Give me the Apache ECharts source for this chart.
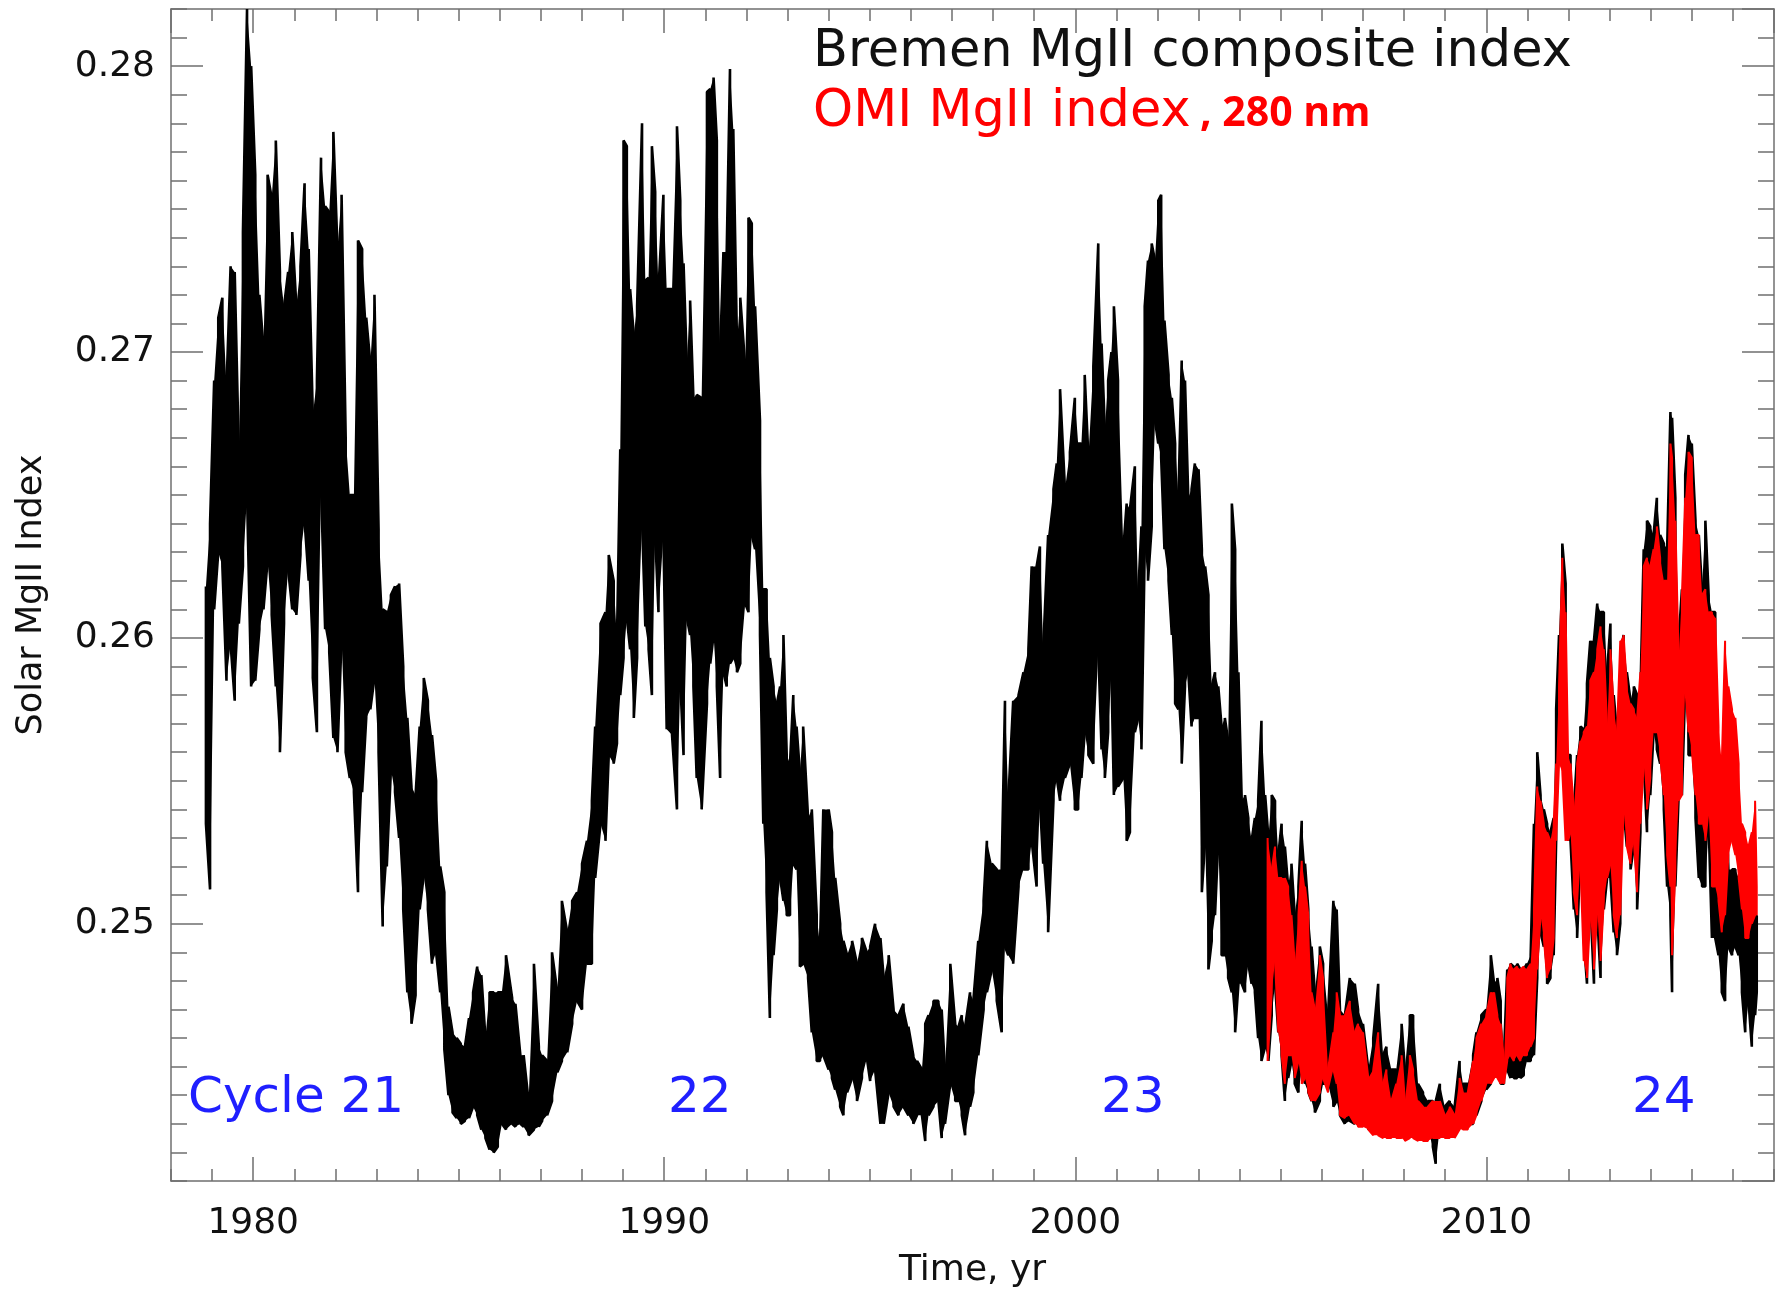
<!DOCTYPE html>
<html>
<head>
<meta charset="utf-8">
<title>Solar MgII Index</title>
<script src="https://cdn.jsdelivr.net/npm/echarts@6/dist/echarts.min.js"></script>
<style>
  html, body { margin: 0; padding: 0; background: #ffffff; }
  #chart { width: 1775px; height: 1294px; }
</style>
</head>
<body>
<div id="chart"></div>
<script>
// Axis extents
const yearRange = [1978, 2017];
const indexRange = [0.241, 0.282];

// Daily MgII index, summarised per ~27-day rotation as [year, high, low]

const bremenCycle21 = [
  [1978.85,0.2618,0.2535],[1978.95,0.2640,0.2512],[1979.05,0.2690,0.2610],[1979.15,0.2712,0.2630],
  [1979.25,0.2719,0.2625],[1979.35,0.2688,0.2585],[1979.45,0.2730,0.2598],[1979.55,0.2728,0.2578],
  [1979.65,0.2665,0.2605],[1979.75,0.2742,0.2625],[1979.85,0.2820,0.2650],[1979.95,0.2800,0.2583],
  [1980.05,0.2762,0.2585],[1980.15,0.2720,0.2603],[1980.25,0.2702,0.2610],[1980.35,0.2762,0.2627],
  [1980.45,0.2754,0.2608],[1980.55,0.2774,0.2583],[1980.65,0.2728,0.2560],[1980.75,0.2716,0.2605],
  [1980.85,0.2728,0.2624],[1980.95,0.2742,0.2610],[1981.05,0.2716,0.2608],[1981.15,0.2730,0.2629],
  [1981.25,0.2759,0.2641],[1981.35,0.2736,0.2620],[1981.45,0.2678,0.2586],[1981.55,0.2690,0.2567],
  [1981.65,0.2768,0.2653],[1981.75,0.2751,0.2603],[1981.85,0.2749,0.2595],[1981.95,0.2777,0.2565],
  [1982.05,0.2736,0.2560],[1982.15,0.2755,0.2600],[1982.25,0.2670,0.2560],[1982.35,0.2650,0.2551],
  [1982.45,0.2650,0.2546],[1982.55,0.2739,0.2511],[1982.65,0.2736,0.2546],[1982.75,0.2712,0.2572],
  [1982.85,0.2696,0.2575],[1982.95,0.2720,0.2586],[1983.05,0.2638,0.2560],[1983.15,0.2610,0.2499],
  [1983.25,0.2609,0.2520],[1983.35,0.2615,0.2554],[1983.45,0.2618,0.2546],[1983.55,0.2619,0.2530],
  [1983.65,0.2590,0.2505],[1983.75,0.2572,0.2476],[1983.85,0.2548,0.2465],[1983.95,0.2545,0.2475],
  [1984.05,0.2569,0.2505],[1984.15,0.2586,0.2517],[1984.25,0.2578,0.2505],[1984.35,0.2566,0.2486],
  [1984.45,0.2550,0.2490],[1984.55,0.2520,0.2476],[1984.65,0.2511,0.2456],[1984.75,0.2471,0.2440],
  [1984.85,0.2462,0.2434],[1984.95,0.2460,0.2432],[1985.05,0.2458,0.2430],[1985.15,0.2457,0.2431],
  [1985.25,0.2467,0.2432],[1985.35,0.2476,0.2436],[1985.45,0.2485,0.2433],[1985.55,0.2482,0.2428],
  [1985.65,0.2460,0.2425],[1985.75,0.2476,0.2421],[1985.85,0.2476,0.2420],[1985.95,0.2476,0.2422],
  [1986.05,0.2476,0.2430],[1986.15,0.2489,0.2428],[1986.30,0.2474,0.2430],[1986.38,0.2472,0.2429],
  [1986.50,0.2454,0.2430],[1986.58,0.2454,0.2429],[1986.70,0.2438,0.2426]
];

const bremenCycle22 = [
  [1986.83,0.2486,0.2428],[1986.95,0.2457,0.2429],[1987.03,0.2454,0.2431],[1987.15,0.2452,0.2433],
  [1987.27,0.2490,0.2438],[1987.40,0.2476,0.2448],[1987.51,0.2508,0.2452],[1987.64,0.2497,0.2455],
  [1987.76,0.2508,0.2465],[1987.88,0.2511,0.2473],[1988.00,0.2521,0.2470],[1988.12,0.2529,0.2486],
  [1988.24,0.2543,0.2486],[1988.32,0.2569,0.2516],[1988.45,0.2605,0.2535],[1988.57,0.2609,0.2529],
  [1988.65,0.2629,0.2559],[1988.77,0.2620,0.2556],[1988.85,0.2599,0.2563],[1988.93,0.2666,0.2580],
  [1989.01,0.2774,0.2593],[1989.09,0.2772,0.2607],[1989.17,0.2722,0.2596],[1989.26,0.2706,0.2572],
  [1989.34,0.2716,0.2593],[1989.46,0.2780,0.2641],[1989.54,0.2725,0.2604],[1989.62,0.2726,0.2596],
  [1989.70,0.2772,0.2580],[1989.78,0.2756,0.2636],[1989.86,0.2722,0.2609],[1989.98,0.2755,0.2636],
  [1990.06,0.2722,0.2568],[1990.19,0.2722,0.2566],[1990.31,0.2779,0.2540],[1990.39,0.2753,0.2585],
  [1990.47,0.2731,0.2559],[1990.55,0.2696,0.2607],[1990.63,0.2718,0.2601],[1990.71,0.2684,0.2583],
  [1990.79,0.2685,0.2551],[1990.91,0.2684,0.2540],[1991.04,0.2791,0.2577],[1991.12,0.2792,0.2591],
  [1991.20,0.2796,0.2601],[1991.28,0.2774,0.2583],[1991.36,0.2700,0.2551],[1991.44,0.2735,0.2588],
  [1991.52,0.2735,0.2583],[1991.60,0.2799,0.2591],[1991.68,0.2778,0.2593],[1991.77,0.2703,0.2588],
  [1991.85,0.2719,0.2591],[1991.97,0.2695,0.2612],[1992.05,0.2747,0.2609],[1992.13,0.2745,0.2636],
  [1992.21,0.2716,0.2631],[1992.33,0.2676,0.2601],[1992.41,0.2617,0.2535],[1992.49,0.2617,0.2511],
  [1992.57,0.2593,0.2467],[1992.66,0.2583,0.2489],[1992.74,0.2577,0.2505],[1992.82,0.2583,0.2516],
  [1992.90,0.2601,0.2508],[1992.98,0.2559,0.2503],[1993.06,0.2556,0.2503],[1993.14,0.2580,0.2521],
  [1993.22,0.2569,0.2519],[1993.30,0.2553,0.2485],[1993.38,0.2569,0.2486],[1993.50,0.2537,0.2481],
  [1993.59,0.2540,0.2462],[1993.71,0.2503,0.2452],[1993.79,0.2492,0.2452],[1993.87,0.2540,0.2454],
  [1994.00,0.2540,0.2449],[1994.08,0.2532,0.2446],[1994.16,0.2516,0.2442],[1994.28,0.2500,0.2436],
  [1994.36,0.2494,0.2433],[1994.45,0.2489,0.2441],[1994.57,0.2494,0.2446],[1994.69,0.2486,0.2438],
  [1994.81,0.2495,0.2446],[1994.93,0.2490,0.2453],[1995.01,0.2492,0.2445],[1995.13,0.2500,0.2449],
  [1995.26,0.2495,0.2430],[1995.34,0.2481,0.2430],[1995.46,0.2489,0.2441],[1995.58,0.2470,0.2436],
  [1995.70,0.2468,0.2433],[1995.82,0.2472,0.2436],[1995.94,0.2464,0.2433],[1996.06,0.2454,0.2430],
  [1996.15,0.2452,0.2433],[1996.27,0.2449,0.2433],[1996.35,0.2465,0.2424]
];

const bremenCycle23 = [
  [1996.43,0.2468,0.2433],[1996.55,0.2473,0.2436],[1996.67,0.2473,0.2438],[1996.75,0.2470,0.2425],
  [1996.83,0.2449,0.2430],[1996.96,0.2486,0.2444],[1997.08,0.2465,0.2438],[1997.16,0.2464,0.2438],
  [1997.24,0.2468,0.2433],[1997.32,0.2464,0.2426],[1997.44,0.2476,0.2436],[1997.52,0.2473,0.2441],
  [1997.64,0.2494,0.2454],[1997.77,0.2508,0.2470],[1997.85,0.2529,0.2476],[1997.97,0.2521,0.2484],
  [1998.09,0.2519,0.2473],[1998.21,0.2519,0.2462],[1998.29,0.2578,0.2492],[1998.37,0.2543,0.2489],
  [1998.49,0.2578,0.2486],[1998.62,0.2580,0.2513],[1998.74,0.2588,0.2519],[1998.86,0.2596,0.2519],
  [1998.94,0.2625,0.2529],[1999.06,0.2625,0.2513],[1999.14,0.2632,0.2543],[1999.22,0.2596,0.2521],
  [1999.34,0.2636,0.2497],[1999.47,0.2652,0.2543],[1999.55,0.2661,0.2551],[1999.63,0.2687,0.2543],
  [1999.75,0.2652,0.2551],[1999.87,0.2665,0.2556],[1999.99,0.2684,0.2540],[2000.07,0.2668,0.2540],
  [2000.15,0.2668,0.2551],[2000.23,0.2692,0.2567],[2000.32,0.2663,0.2559],[2000.44,0.2695,0.2556],
  [2000.56,0.2738,0.2596],[2000.64,0.2703,0.2561],[2000.72,0.2673,0.2551],[2000.80,0.2690,0.2567],
  [2000.88,0.2700,0.2588],[2000.94,0.2716,0.2545],[2001.04,0.2690,0.2548],[2001.17,0.2631,0.2551],
  [2001.25,0.2647,0.2529],[2001.33,0.2645,0.2532],[2001.45,0.2660,0.2567],[2001.53,0.2615,0.2572],
  [2001.61,0.2639,0.2561],[2001.69,0.2716,0.2631],[2001.77,0.2732,0.2620],[2001.86,0.2738,0.2639],
  [2001.94,0.2732,0.2676],[2002.02,0.2753,0.2668],[2002.09,0.2755,0.2663],[2002.17,0.2711,0.2631],
  [2002.27,0.2692,0.2620],[2002.35,0.2684,0.2601],[2002.43,0.2668,0.2577],[2002.51,0.2649,0.2575],
  [2002.59,0.2697,0.2556],[2002.67,0.2690,0.2583],[2002.75,0.2649,0.2588],[2002.83,0.2652,0.2569],
  [2002.91,0.2661,0.2572],[2003.00,0.2659,0.2572],[2003.08,0.2631,0.2511],[2003.16,0.2625,0.2529],
  [2003.24,0.2615,0.2484],[2003.32,0.2583,0.2494],[2003.40,0.2588,0.2503],[2003.48,0.2583,0.2529],
  [2003.56,0.2569,0.2489],[2003.64,0.2572,0.2489],[2003.72,0.2564,0.2481],[2003.81,0.2647,0.2476],
  [2003.89,0.2631,0.2462],[2003.97,0.2588,0.2479],[2004.05,0.2543,0.2479],[2004.13,0.2545,0.2476],
  [2004.21,0.2537,0.2486],[2004.29,0.2529,0.2479],[2004.37,0.2537,0.2476],[2004.45,0.2543,0.2460],
  [2004.53,0.2571,0.2452],[2004.62,0.2545,0.2457],[2004.70,0.2530,0.2452],[2004.78,0.2545,0.2468],
  [2004.86,0.2543,0.2479],[2004.94,0.2524,0.2462],[2005.02,0.2535,0.2454],[2005.10,0.2527,0.2438],
  [2005.18,0.2513,0.2446],[2005.26,0.2521,0.2452],[2005.34,0.2503,0.2444],[2005.43,0.2513,0.2441],
  [2005.51,0.2536,0.2449],[2005.59,0.2521,0.2444],[2005.67,0.2505,0.2441],[2005.75,0.2492,0.2438],
  [2005.83,0.2476,0.2434],[2005.95,0.2492,0.2438],[2006.03,0.2486,0.2444],[2006.15,0.2468,0.2444],
  [2006.28,0.2508,0.2436],[2006.36,0.2505,0.2438],[2006.44,0.2470,0.2433],[2006.56,0.2468,0.2430],
  [2006.68,0.2481,0.2431],[2006.80,0.2479,0.2430],[2006.88,0.2470,0.2433],[2007.00,0.2465,0.2430],
  [2007.13,0.2449,0.2428],[2007.25,0.2460,0.2430],[2007.37,0.2479,0.2430],[2007.49,0.2454,0.2429],
  [2007.57,0.2457,0.2430],[2007.69,0.2449,0.2428],[2007.81,0.2449,0.2429],[2007.94,0.2465,0.2428],
  [2008.02,0.2449,0.2428],[2008.14,0.2468,0.2428],[2008.22,0.2468,0.2429],[2008.34,0.2444,0.2426],
  [2008.46,0.2441,0.2428],[2008.58,0.2438,0.2428],[2008.70,0.2438,0.2422],[2008.77,0.2438,0.2416],
  [2008.87,0.2444,0.2429]
];

const bremenCycle24 = [
  [2008.99,0.2436,0.2428],[2009.11,0.2438,0.2429],[2009.23,0.2436,0.2428],[2009.35,0.2452,0.2429],
  [2009.43,0.2444,0.2429],[2009.55,0.2444,0.2430],[2009.68,0.2454,0.2430],[2009.76,0.2462,0.2433],
  [2009.88,0.2468,0.2438],[2010.00,0.2470,0.2442],[2010.11,0.2489,0.2444],[2010.19,0.2479,0.2449],
  [2010.27,0.2481,0.2452],[2010.35,0.2473,0.2444],[2010.43,0.2454,0.2444],[2010.51,0.2484,0.2449],
  [2010.59,0.2486,0.2446],[2010.67,0.2485,0.2446],[2010.75,0.2486,0.2446],[2010.83,0.2484,0.2446],
  [2010.91,0.2484,0.2447],[2010.99,0.2486,0.2452],[2011.08,0.2489,0.2452],[2011.16,0.2535,0.2454],
  [2011.24,0.2560,0.2481],[2011.32,0.2545,0.2497],[2011.40,0.2540,0.2492],[2011.48,0.2535,0.2479],
  [2011.56,0.2532,0.2481],[2011.64,0.2537,0.2489],[2011.70,0.2575,0.2529],[2011.77,0.2601,0.2556],
  [2011.85,0.2633,0.2556],[2011.93,0.2619,0.2551],[2011.99,0.2559,0.2529],[2012.05,0.2559,0.2529],
  [2012.13,0.2540,0.2505],[2012.21,0.2559,0.2495],[2012.29,0.2569,0.2524],[2012.37,0.2568,0.2495],
  [2012.45,0.2584,0.2479],[2012.53,0.2599,0.2508],[2012.62,0.2599,0.2479],[2012.70,0.2612,0.2503],
  [2012.78,0.2609,0.2481],[2012.86,0.2609,0.2505],[2012.94,0.2588,0.2516],[2013.02,0.2605,0.2516],
  [2013.10,0.2580,0.2497],[2013.18,0.2567,0.2489],[2013.26,0.2593,0.2500],[2013.34,0.2601,0.2540],
  [2013.42,0.2588,0.2527],[2013.51,0.2578,0.2519],[2013.59,0.2583,0.2527],[2013.67,0.2580,0.2505],
  [2013.75,0.2580,0.2532],[2013.83,0.2631,0.2556],[2013.91,0.2641,0.2532],[2013.99,0.2639,0.2545],
  [2014.07,0.2636,0.2567],[2014.15,0.2649,0.2561],[2014.23,0.2636,0.2556],[2014.32,0.2633,0.2540],
  [2014.40,0.2631,0.2513],[2014.48,0.2679,0.2503],[2014.52,0.2677,0.2476],[2014.60,0.2649,0.2513],
  [2014.68,0.2599,0.2545],[2014.76,0.2617,0.2545],[2014.84,0.2657,0.2583],[2014.92,0.2671,0.2559],
  [2015.00,0.2668,0.2559],[2015.09,0.2641,0.2537],[2015.17,0.2636,0.2516],[2015.25,0.2617,0.2513],
  [2015.33,0.2641,0.2513],[2015.41,0.2615,0.2535],[2015.49,0.2609,0.2495],[2015.57,0.2609,0.2495],
  [2015.65,0.2556,0.2489],[2015.73,0.2537,0.2476],[2015.81,0.2556,0.2473],[2015.89,0.2519,0.2492],
  [2015.98,0.2519,0.2489],[2016.06,0.2519,0.2492],[2016.14,0.2516,0.2489],[2016.22,0.2503,0.2476],
  [2016.30,0.2519,0.2462],[2016.38,0.2511,0.2473],[2016.46,0.2505,0.2457],[2016.54,0.2505,0.2468],
  [2016.58,0.2503,0.2476]
];

const omiCycle23 = [
  [2004.68,0.2530,0.2452],[2004.78,0.2519,0.2476],[2004.86,0.2527,0.2487],[2004.94,0.2516,0.2462],
  [2005.02,0.2516,0.2454],[2005.10,0.2516,0.2444],[2005.18,0.2513,0.2454],[2005.26,0.2503,0.2454],
  [2005.34,0.2486,0.2446],[2005.43,0.2503,0.2452],[2005.51,0.2522,0.2444],[2005.59,0.2513,0.2446],
  [2005.67,0.2503,0.2441],[2005.75,0.2476,0.2438],[2005.83,0.2470,0.2438],[2005.95,0.2489,0.2441],
  [2006.03,0.2481,0.2446],[2006.15,0.2449,0.2441],[2006.28,0.2462,0.2449],[2006.36,0.2476,0.2444],
  [2006.44,0.2468,0.2433],[2006.56,0.2468,0.2432],[2006.68,0.2473,0.2433],[2006.80,0.2462,0.2430],
  [2006.88,0.2465,0.2429],[2007.00,0.2462,0.2429],[2007.13,0.2446,0.2428],[2007.25,0.2449,0.2426],
  [2007.37,0.2462,0.2426],[2007.49,0.2444,0.2425],[2007.57,0.2449,0.2425],[2007.69,0.2438,0.2425],
  [2007.81,0.2444,0.2425],[2007.94,0.2454,0.2425],[2008.02,0.2438,0.2424],[2008.14,0.2454,0.2425],
  [2008.22,0.2449,0.2425],[2008.34,0.2438,0.2424],[2008.46,0.2436,0.2424],[2008.58,0.2436,0.2424],
  [2008.70,0.2438,0.2425],[2008.87,0.2438,0.2425]
];

const omiCycle24 = [
  [2008.99,0.2433,0.2425],[2009.11,0.2436,0.2425],[2009.23,0.2433,0.2425],[2009.35,0.2446,0.2428],
  [2009.43,0.2441,0.2428],[2009.55,0.2441,0.2428],[2009.68,0.2452,0.2430],[2009.76,0.2460,0.2433],
  [2009.88,0.2465,0.2438],[2010.00,0.2468,0.2444],[2010.11,0.2476,0.2444],[2010.19,0.2476,0.2446],
  [2010.27,0.2468,0.2446],[2010.35,0.2465,0.2444],[2010.43,0.2452,0.2444],[2010.51,0.2481,0.2452],
  [2010.59,0.2486,0.2454],[2010.67,0.2484,0.2452],[2010.75,0.2485,0.2454],[2010.83,0.2484,0.2452],
  [2010.91,0.2485,0.2454],[2010.99,0.2484,0.2454],[2011.08,0.2486,0.2457],[2011.16,0.2505,0.2460],
  [2011.24,0.2548,0.2484],[2011.32,0.2543,0.2503],[2011.40,0.2535,0.2495],[2011.48,0.2532,0.2481],
  [2011.56,0.2529,0.2484],[2011.64,0.2535,0.2495],[2011.70,0.2556,0.2529],[2011.77,0.2583,0.2556],
  [2011.85,0.2628,0.2553],[2011.93,0.2609,0.2529],[2011.99,0.2559,0.2529],[2012.05,0.2556,0.2532],
  [2012.13,0.2540,0.2511],[2012.21,0.2556,0.2503],[2012.29,0.2564,0.2521],[2012.37,0.2567,0.2487],
  [2012.45,0.2569,0.2481],[2012.53,0.2585,0.2503],[2012.62,0.2588,0.2484],[2012.70,0.2596,0.2505],
  [2012.78,0.2604,0.2487],[2012.86,0.2596,0.2508],[2012.94,0.2569,0.2516],[2013.02,0.2596,0.2521],
  [2013.10,0.2575,0.2503],[2013.18,0.2567,0.2495],[2013.26,0.2599,0.2503],[2013.34,0.2601,0.2540],
  [2013.42,0.2583,0.2527],[2013.51,0.2577,0.2521],[2013.59,0.2575,0.2529],[2013.67,0.2572,0.2511],
  [2013.75,0.2588,0.2535],[2013.83,0.2625,0.2556],[2013.91,0.2628,0.2540],[2013.99,0.2625,0.2551],
  [2014.07,0.2631,0.2567],[2014.15,0.2639,0.2567],[2014.23,0.2628,0.2559],[2014.32,0.2620,0.2545],
  [2014.40,0.2620,0.2524],[2014.48,0.2668,0.2513],[2014.52,0.2663,0.2489],[2014.60,0.2641,0.2519],
  [2014.68,0.2593,0.2543],[2014.76,0.2615,0.2545],[2014.84,0.2649,0.2583],[2014.92,0.2665,0.2567],
  [2015.00,0.2663,0.2561],[2015.09,0.2636,0.2545],[2015.17,0.2636,0.2535],[2015.25,0.2615,0.2535],
  [2015.33,0.2617,0.2529],[2015.41,0.2609,0.2540],[2015.49,0.2609,0.2513],[2015.57,0.2607,0.2513],
  [2015.65,0.2569,0.2508],[2015.73,0.2556,0.2497],[2015.81,0.2599,0.2503],[2015.89,0.2583,0.2524],
  [2015.98,0.2575,0.2529],[2016.06,0.2572,0.2524],[2016.14,0.2556,0.2516],[2016.22,0.2535,0.2505],
  [2016.30,0.2532,0.2495],[2016.38,0.2527,0.2495],[2016.46,0.2532,0.2500],[2016.54,0.2543,0.2503],
  [2016.58,0.2513,0.2503]
];

const cycleNames = ['Cycle 21', '22', '23', '24'];
const legendBremen = 'Bremen MgII composite index';
const legendOmi = 'OMI MgII index';
const legendOmiBand = ', 280 nm';

const bremenRows = [].concat(bremenCycle21, bremenCycle22, bremenCycle23, bremenCycle24);
const omiRows = [].concat(omiCycle23, omiCycle24);

// Each rotation becomes a vertical stroke from high to low; strokes alternate
// direction so consecutive ones join at the top or bottom, like the daily trace.
function rotationStrokes(rows) {
  const pts = [];
  rows.forEach((r, i) => {
    if (i % 2 === 0) { pts.push([r[0], r[1]], [r[0], r[2]]); }
    else { pts.push([r[0], r[2]], [r[0], r[1]]); }
  });
  return pts;
}

// Solid band between the rotation highs and lows (the dense daily scatter).
function bandSeries(name, rows, color) {
  return {
    name: name, type: 'custom', coordinateSystem: 'cartesian2d',
    xAxisIndex: 0, yAxisIndex: 0, silent: true, clip: true,
    data: rows, encode: { x: 0, y: [1, 2] },
    renderItem: function (params, api) {
      if (params.dataIndex !== 0) { return null; }
      const pts = [];
      for (let i = 0; i < rows.length; i++) { pts.push(api.coord([rows[i][0], rows[i][1]])); }
      for (let i = rows.length - 1; i >= 0; i--) { pts.push(api.coord([rows[i][0], rows[i][2]])); }
      return { type: 'polygon', shape: { points: pts }, style: { fill: color, stroke: null } };
    },
    z: 2
  };
}

const FONT = '"DejaVu Sans", "Liberation Sans", sans-serif';
const AXIS_GRAY = '#6f6f6f';
const lineOf = { show: true, lineStyle: { color: AXIS_GRAY, width: 1.5 } };
const noLine = { show: false };

function xAxisDef(position, minor, labels) {
  const ax = {
    type: 'value', position: position,
    min: yearRange[0], max: yearRange[1],
    axisLine: minor ? noLine : lineOf,
    axisTick: { show: true, inside: true, length: minor ? 12 : 24,
                lineStyle: { color: AXIS_GRAY, width: 1.5 } },
    axisLabel: { show: false },
    splitLine: { show: false }
  };
  if (minor) { ax.interval = 1; } else { ax.splitNumber = 4; }
  if (labels) {
    ax.axisLabel = { show: true, margin: 25, fontSize: 36, fontFamily: FONT, color: '#111',
                     showMinLabel: false, showMaxLabel: false,
                     formatter: v => String(Math.round(v)) };
    ax.name = 'Time, yr';
    ax.nameLocation = 'middle';
    ax.nameGap = 72;
    ax.nameTextStyle = { fontSize: 36, fontFamily: FONT, color: '#111' };
  }
  return ax;
}

function yAxisDef(position, minor, labels) {
  const ax = {
    type: 'value', position: position,
    min: indexRange[0], max: indexRange[1],
    axisLine: minor ? noLine : lineOf,
    axisTick: { show: true, inside: true, length: minor ? 16 : 32,
                lineStyle: { color: AXIS_GRAY, width: 1.5 } },
    axisLabel: { show: false },
    splitLine: { show: false }
  };
  if (minor) { ax.interval = 0.001; } else { ax.splitNumber = 5; }
  if (labels) {
    ax.axisLabel = { show: true, margin: 16, fontSize: 36, fontFamily: FONT, color: '#111',
                     showMinLabel: false, showMaxLabel: false,
                     formatter: v => v.toFixed(2) };
    ax.name = 'Solar MgII Index';
    ax.nameLocation = 'middle';
    ax.nameRotate = 90;
    ax.nameGap = 122;
    ax.nameTextStyle = { fontSize: 35, fontFamily: FONT, color: '#111' };
  }
  return ax;
}

const chart = echarts.init(document.getElementById('chart'), null, { renderer: 'canvas' });

chart.setOption({
  animation: false,
  backgroundColor: '#ffffff',
  grid: { left: 171, right: 1, top: 9, bottom: 111 },
  xAxis: [
    xAxisDef('bottom', false, true),
    xAxisDef('bottom', true, false),
    xAxisDef('top', false, false),
    xAxisDef('top', true, false)
  ],
  yAxis: [
    yAxisDef('left', false, true),
    yAxisDef('left', true, false),
    yAxisDef('right', false, false),
    yAxisDef('right', true, false)
  ],
  series: [
    bandSeries(legendBremen, bremenRows, '#000000'),
    {
      name: legendBremen, type: 'line', xAxisIndex: 0, yAxisIndex: 0,
      data: rotationStrokes(bremenRows), symbol: 'none', showSymbol: false, silent: true, clip: true,
      lineStyle: { color: '#000000', width: 2.6, join: 'bevel' }, z: 3
    },
    Object.assign(bandSeries(legendOmi, omiRows, '#ff0000'), { z: 4 }),
    {
      name: legendOmi, type: 'line', xAxisIndex: 0, yAxisIndex: 0,
      data: rotationStrokes(omiRows), symbol: 'none', showSymbol: false, silent: true, clip: true,
      lineStyle: { color: '#ff0000', width: 2, join: 'bevel' }, z: 5
    }
  ],
  graphic: [
    { type: 'text', x: 813, y: 53, z: 10,
      style: { text: legendBremen, fill: '#111', font: '51px ' + FONT,
               textAlign: 'left', textVerticalAlign: 'middle' } },
    { type: 'text', x: 813, y: 113, z: 10,
      style: { text: legendOmi, fill: '#ff0000', font: '51px ' + FONT,
               textAlign: 'left', textVerticalAlign: 'middle' } },
    { type: 'text', x: 1200, y: 114, z: 10,
      style: { text: legendOmiBand, fill: '#ff0000', font: 'bold 41px "Open Sans", "Noto Sans", sans-serif',
               textAlign: 'left', textVerticalAlign: 'middle' } },
    { type: 'text', x: 188, y: 1099, z: 10,
      style: { text: cycleNames[0], fill: '#1f1fff', font: '50px ' + FONT,
               textAlign: 'left', textVerticalAlign: 'middle' } },
    { type: 'text', x: 668, y: 1099, z: 10,
      style: { text: cycleNames[1], fill: '#1f1fff', font: '50px ' + FONT,
               textAlign: 'left', textVerticalAlign: 'middle' } },
    { type: 'text', x: 1101, y: 1099, z: 10,
      style: { text: cycleNames[2], fill: '#1f1fff', font: '50px ' + FONT,
               textAlign: 'left', textVerticalAlign: 'middle' } },
    { type: 'text', x: 1632, y: 1099, z: 10,
      style: { text: cycleNames[3], fill: '#1f1fff', font: '50px ' + FONT,
               textAlign: 'left', textVerticalAlign: 'middle' } }
  ]
});
</script>
</body>
</html>
